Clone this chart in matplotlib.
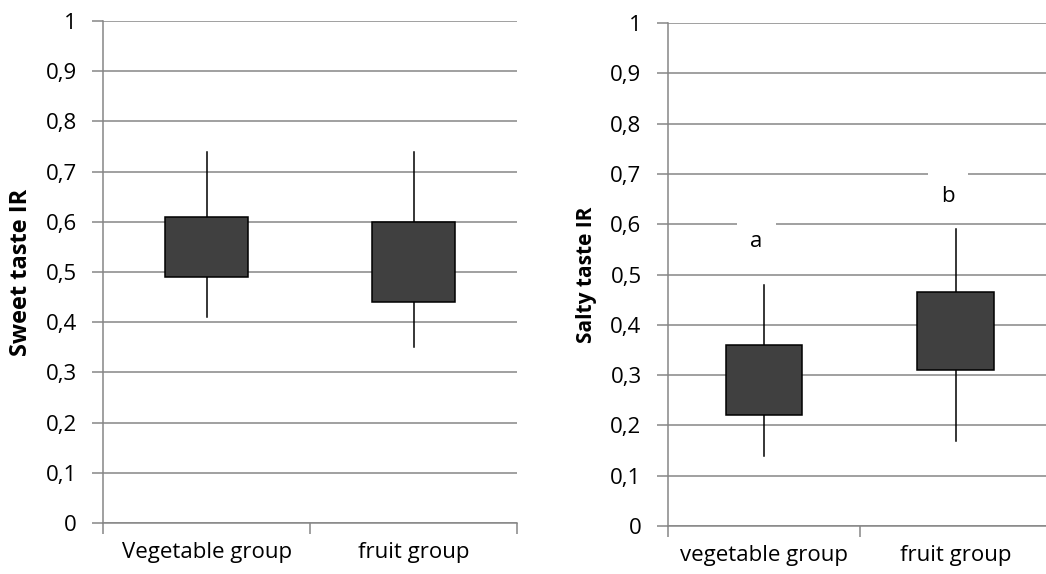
import matplotlib.pyplot as plt
from matplotlib.patches import Rectangle

plt.rcParams['font.family'] = ['Open Sans', 'DejaVu Sans']

# Sweet taste IR: whisker low/high and box low/high per group
sweet_groups = ["Vegetable group", "fruit group"]
sweet_low = [0.41, 0.35]
sweet_q1 = [0.49, 0.44]
sweet_q3 = [0.61, 0.60]
sweet_high = [0.74, 0.74]

# Salty taste IR
salty_groups = ["vegetable group", "fruit group"]
salty_low = [0.14, 0.17]
salty_q1 = [0.22, 0.31]
salty_q3 = [0.36, 0.465]
salty_high = [0.48, 0.59]
salty_letters = ["a", "b"]
salty_letter_y = [0.565, 0.655]

y_ticks = [i / 10 for i in range(11)]
y_tick_labels = ["0" if v == 0 else "1" if v == 1 else f"{v:.1f}".replace(".", ",") for v in y_ticks]

GRID = "#868686"
BOX = "#404040"
FS = 16


def stock_panel(ax, groups, low, q1, q3, high, ylabel, label_size):
    ax.set_xlim(0, len(groups))
    ax.set_ylim(0, 1)
    for i in range(len(groups)):
        xc = i + 0.5
        ax.plot([xc, xc], [low[i], high[i]], color="black", lw=1.1, zorder=2)
        ax.add_patch(Rectangle((xc - 0.2, q1[i]), 0.4, q3[i] - q1[i],
                               facecolor=BOX, edgecolor="black", lw=1.1, zorder=3))
    ax.set_yticks(y_ticks)
    ax.set_yticklabels(y_tick_labels, fontsize=FS)
    ax.yaxis.grid(True, color=GRID, lw=1.1)
    ax.set_axisbelow(True)
    ax.set_xticks(range(len(groups) + 1))
    ax.set_xticklabels([])
    ax.set_xticks([i + 0.5 for i in range(len(groups))], minor=True)
    ax.set_xticklabels(groups, minor=True, fontsize=FS)
    ax.tick_params(axis="x", which="minor", length=0, pad=14)
    ax.tick_params(axis="x", which="major", length=8, color=GRID, width=1.1)
    ax.tick_params(axis="y", length=8, color=GRID, width=1.1, pad=11)
    for s in ("top", "right"):
        ax.spines[s].set_visible(False)
    for s in ("left", "bottom"):
        ax.spines[s].set_color(GRID)
        ax.spines[s].set_linewidth(1.1)
    ax.set_ylabel(ylabel, fontsize=label_size, fontweight="bold")


fig = plt.figure(figsize=(10.46, 5.74), dpi=100)
ax1 = fig.add_axes([0.0985, 0.0889, 0.396, 0.8745])
ax2 = fig.add_axes([0.6386, 0.0836, 0.367, 0.876])

stock_panel(ax1, sweet_groups, sweet_low, sweet_q1, sweet_q3, sweet_high, "Sweet taste IR", 17)
stock_panel(ax2, salty_groups, salty_low, salty_q1, salty_q3, salty_high, "Salty taste IR", 15)
ax1.yaxis.set_label_coords(-0.17, 0.5)
ax2.yaxis.set_label_coords(-0.185, 0.5)

# significance letters with white backing over the grid
for i, (t, y) in enumerate(zip(salty_letters, salty_letter_y)):
    ax2.text(i + 0.46, y, t, ha="center", va="center", fontsize=FS, zorder=4,
             bbox=dict(facecolor="white", edgecolor="none", boxstyle="square,pad=0.6"))

fig.savefig("out.png", dpi=100)
